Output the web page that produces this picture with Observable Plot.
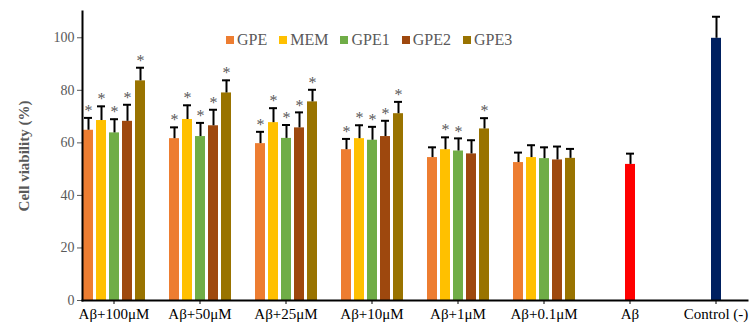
<!DOCTYPE html>
<html><head><meta charset="utf-8">
<script src="https://cdn.jsdelivr.net/npm/d3@7"></script>
<script src="https://cdn.jsdelivr.net/npm/@observablehq/plot@0.6"></script>
<style>
body{margin:0;background:#fff;}
#wrap{position:relative;width:749px;height:326px;overflow:hidden;}
#legend{position:absolute;left:226px;top:23px;}
.leg-swatches, .leg-swatch{font-family:"Liberation Serif",serif !important;font-size:16px !important;color:#595959 !important;}
.leg-swatch{margin-right:12px !important;}
.leg-swatch svg{margin-right:3px !important;}
svg text{font-family:"Liberation Serif",serif !important;}
g[aria-label="y-axis label"] text{font-weight:bold;font-size:15px;}
</style></head><body><div id="wrap"><div id="legend"></div></div>
<script>
const groups = ["Aβ+100μM","Aβ+50μM","Aβ+25μM","Aβ+10μM","Aβ+1μM","Aβ+0.1μM"];
const series = ["GPE","MEM","GPE1","GPE2","GPE3"];
const seriesColors = ["#ED7D31","#FFC000","#70AD47","#9E480E","#997300"];
const gpeMean  = [64.8, 61.6, 59.7, 57.4, 54.4, 52.5];
const memMean  = [68.5, 68.9, 67.7, 61.6, 57.4, 54.4];
const gpe1Mean = [63.8, 62.4, 61.7, 61.0, 56.9, 54.0];
const gpe2Mean = [68.2, 66.5, 65.7, 62.4, 55.8, 53.5];
const gpe3Mean = [83.6, 79.0, 75.6, 71.1, 65.3, 54.1];
const gpeErr   = [4.7, 4.3, 4.5, 4.1, 3.9, 3.8];
const memErr   = [5.4, 5.4, 5.5, 5.1, 4.7, 4.7];
const gpe1Err  = [5.2, 5.2, 5.1, 5.1, 4.8, 4.3];
const gpe2Err  = [6.3, 6.1, 5.9, 6.0, 5.2, 5.1];
const gpe3Err  = [5.0, 4.8, 4.6, 4.5, 4.1, 3.6];
const gpeSig   = [1,1,1,1,0,0];
const memSig   = [1,1,1,1,1,0];
const gpe1Sig  = [1,1,1,1,1,0];
const gpe2Sig  = [1,1,1,1,0,0];
const gpe3Sig  = [1,1,1,1,1,0];
const controls = ["Aβ","Control (-)"];
const controlMean = [51.8, 99.8];
const controlErr  = [4.1, 8.2];
const controlColors = ["#FF0000","#002060"];
const yTicks = [0,20,40,60,80,100];

const means = [gpeMean, memMean, gpe1Mean, gpe2Mean, gpe3Mean];
const errs = [gpeErr, memErr, gpe1Err, gpe2Err, gpe3Err];
const sigs = [gpeSig, memSig, gpe1Sig, gpe2Sig, gpe3Sig];
const rows = [];
groups.forEach((g, j) => series.forEach((s, i) => rows.push({group: g, key: s, slot: s, value: means[i][j], err: errs[i][j], sig: sigs[i][j]})));
controls.forEach((c, k) => rows.push({group: c, key: c, slot: series[2], value: controlMean[k], err: controlErr[k], sig: 0}));
const barTop = d => d.value + d.err;
const font = "'Liberation Serif', 'Times New Roman', serif";

const chart = Plot.plot({
  width: 749, height: 326,
  marginLeft: 70, marginRight: -10, marginTop: 11, marginBottom: 26,
  style: {fontFamily: font, background: "white", overflow: "hidden"},
  fx: {domain: [...groups, ...controls], paddingInner: 0.265, paddingOuter: 0.1325, label: null, axis: null},
  x: {domain: series, paddingInner: 0.25, paddingOuter: 0, axis: null},
  y: {domain: [0, 110], axis: null},
  color: {domain: [...series, ...controls], range: [...seriesColors, ...controlColors]},
  marks: [
    Plot.barY(rows, {fx: "group", x: "slot", y: "value", fill: "key"}),
    Plot.ruleX(rows, {fx: "group", x: "slot", y1: "value", y2: barTop, stroke: "black", strokeWidth: 2}),
    Plot.tickY(rows, {fx: "group", x: "slot", y: barTop, stroke: "black", strokeWidth: 2, inset: 1}),
    Plot.text(rows.filter(d => d.sig), {fx: "group", x: "slot", y: barTop, text: () => "*", dy: -7, fontSize: 16, fill: "#595959"}),
    Plot.axisY({ticks: yTicks, tickSize: 5, tickPadding: 3, fontSize: 14, color: "#595959", label: "Cell viability (%)", labelAnchor: "center", labelArrow: "none", labelOffset: 64}),
    Plot.axisFx({anchor: "bottom", tickSize: 4, tickPadding: 4, fontSize: 15, color: "#000", label: null}),
    Plot.frame({anchor: "left", facet: "super", stroke: "black", strokeWidth: 2}),
    Plot.frame({anchor: "bottom", facet: "super", stroke: "black", strokeWidth: 2})
  ]
});
document.getElementById("wrap").prepend(chart);

const legend = Plot.legend({color: {domain: series, range: seriesColors}, swatchSize: 8, className: "leg"});
document.getElementById("legend").appendChild(legend);
</script>
</body></html>
